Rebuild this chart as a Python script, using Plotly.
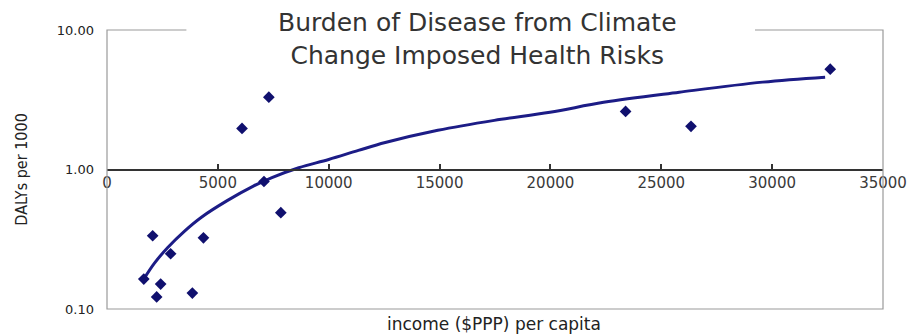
import plotly.graph_objects as go

# Data
income = [1660, 2060, 2420, 2240, 2870, 3850, 4350, 7080, 7840, 6090, 7300, 23390, 26340, 32620]
dalys = [0.164, 0.335, 0.151, 0.122, 0.249, 0.130, 0.324, 0.82, 0.49, 1.97, 3.30, 2.61, 2.04, 5.24]

trend_x = [1660, 2150, 2730, 3500, 4260, 5420, 6600, 7440, 8650, 10000, 11340, 12550, 14920, 17470, 19980, 22400, 25810, 29570, 32390]
trend_y = [0.164, 0.214, 0.275, 0.362, 0.455, 0.598, 0.76, 0.876, 1.03, 1.18, 1.37, 1.56, 1.91, 2.25, 2.57, 3.03, 3.58, 4.23, 4.59]

x_ticks = [0, 5000, 10000, 15000, 20000, 25000, 30000, 35000]
y_ticks = [0.1, 1, 10]
y_tick_text = ["0.10", "1.00", "10.00"]

W, H = 919, 335
ML, MR, MT, MB = 107, 30, 30, 26
PW, PH = W - ML - MR, H - MT - MB

def px_x(p):
    return (p - ML) / PW

def px_y(p):
    return (H - MB - p) / PH

fig = go.Figure()
fig.add_trace(go.Scatter(
    x=trend_x, y=trend_y, mode="lines",
    line=dict(color="#1c1c86", width=3, shape="spline", smoothing=1.0),
    hoverinfo="skip", showlegend=False))
fig.add_trace(go.Scatter(
    x=income, y=dalys, mode="markers",
    marker=dict(symbol="diamond", size=9, color="#10106e"),
    showlegend=False))

fig.update_layout(
    width=W, height=H,
    margin=dict(l=ML, r=MR, t=MT, b=MB),
    paper_bgcolor="white", plot_bgcolor="white",
    font=dict(family="DejaVu Sans", color="#333333"),
    xaxis=dict(
        range=[0, 35000], tickvals=x_ticks, ticktext=[str(v) for v in x_ticks],
        showgrid=False, zeroline=False, showline=True, linecolor="#333333", linewidth=1.5,
        ticks="inside", ticklen=5, tickcolor="#333333", tickwidth=1.5,
        anchor="free", position=0.5,
        tickfont=dict(size=15, color="#3a3a3a"),
    ),
    yaxis=dict(
        type="log", range=[-1, 1], tickvals=y_ticks, ticktext=y_tick_text,
        showgrid=False, zeroline=False, showline=False, ticks="",
        ticklabelstandoff=12,
        tickfont=dict(size=13, color="#222222", family="DejaVu Sans"),
        domain=[0, 1],
    ),
    shapes=[
        dict(type="rect", xref="paper", yref="paper", x0=0, x1=1, y0=0, y1=1,
             line=dict(color="#9a9a9a", width=1.2), fillcolor="rgba(0,0,0,0)", layer="above"),
        dict(type="rect", xref="paper", yref="paper", x0=px_x(187), x1=px_x(760),
             y0=px_y(36), y1=px_y(24), line=dict(width=0), fillcolor="white", layer="above"),
    ],
    annotations=[
        dict(text="Burden of Disease from Climate<br>Change Imposed Health Risks",
             xref="paper", yref="paper", x=px_x(480), y=px_y(39), xanchor="center", yanchor="middle",
             showarrow=False, font=dict(size=25, color="#333333", family="DejaVu Sans")),
        dict(text="income ($PPP) per capita", xref="paper", yref="paper",
             x=px_x(497), y=px_y(324), xanchor="center", yanchor="middle", showarrow=False,
             font=dict(size=17, color="#222222", family="DejaVu Sans")),
        dict(text="DALYs per 1000", xref="paper", yref="paper",
             x=px_x(20), y=px_y(169), xanchor="center", yanchor="middle", textangle=-90,
             showarrow=False, font=dict(size=16, color="#222222", family="DejaVu Sans Condensed")),
    ],
)

fig.write_html("out.html")
